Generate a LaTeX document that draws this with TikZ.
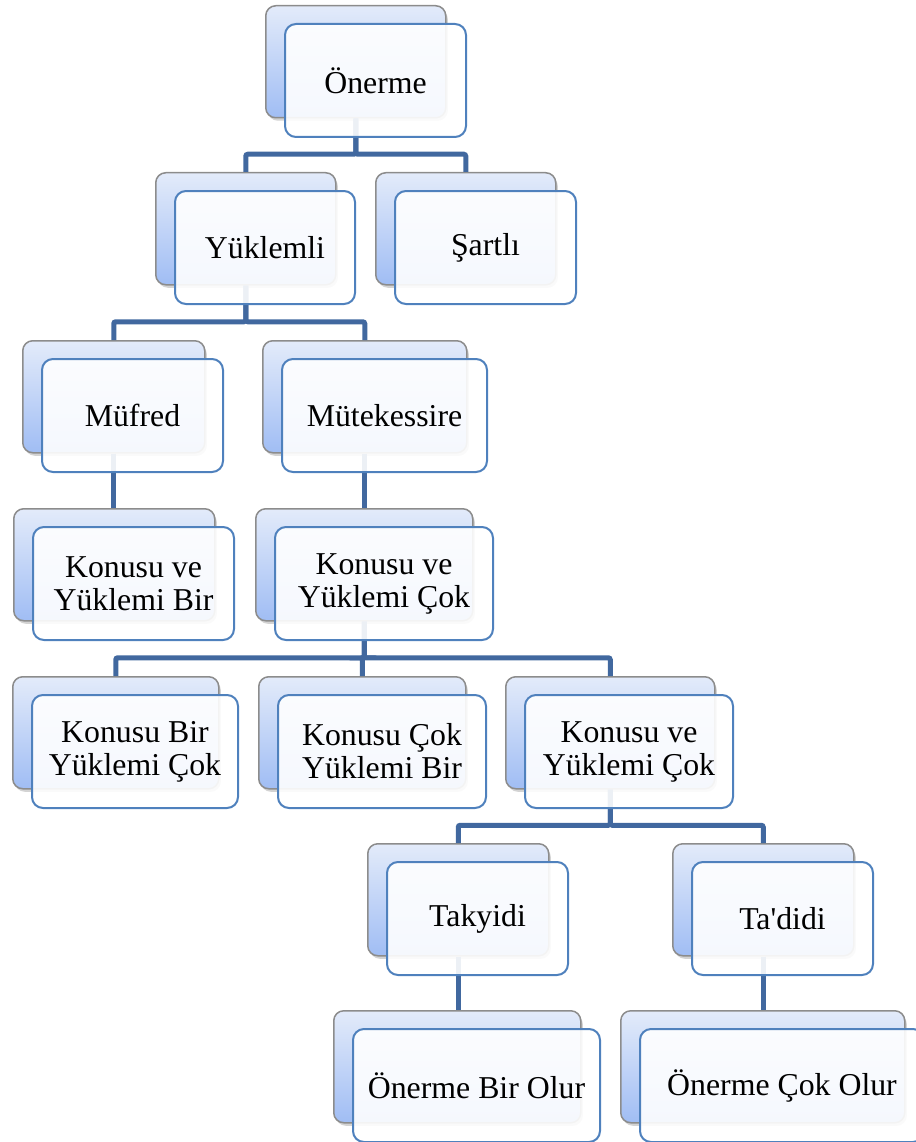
\documentclass[tikz,border=0pt]{standalone}
\usepackage{fontspec}
\setmainfont{Liberation Serif}[Ligatures=TeXOff]
\usetikzlibrary{positioning, shadows, calc}
\definecolor{TreeLine}{HTML}{41689F}
\definecolor{TreeEdge}{HTML}{4F81BD}
\definecolor{TreeTop}{HTML}{E3EBFA}
\definecolor{TreeBottom}{HTML}{A0BDF4}
\definecolor{TreeGray}{HTML}{8C8C8C}

\begin{document}
\begin{tikzpicture}[x=1pt, y=-1pt, every node/.style={font=\fontsize{31.8}{33}\selectfont}]
  \tikzset{
    backbox/.style={rectangle, rounded corners=10pt, draw=TreeGray, line width=1.5pt, top color=TreeTop, bottom color=TreeBottom, minimum height=112pt, inner sep=0pt, anchor=north west, drop shadow={opacity=0.35, shadow xshift=2pt, shadow yshift=-3pt}},
    frontbox/.style={rectangle, rounded corners=11pt, draw=TreeEdge, line width=2pt, fill=white, fill opacity=0.9, text opacity=1, minimum height=113pt, inner sep=0pt, anchor=north west, align=center},
    conn/.style={draw=TreeLine, line width=5pt, rounded corners=2pt}
  }
  \useasboundingbox (0,0) rectangle (915,1142);

  % back cards
  \foreach \n/\x/\y/\w in {oner/265/5/180, yuk/155/172/180, sart/375/172/180,
      muf/22/340/182, mut/262/340/204, kvyb/13/508/201, kvyc/255/508/217,
      kbyc/12/676/206, kcyb/258/676/207, kvyd/505/676/209,
      tak/367/843/181, tad/672/843/181, obo/333/1010/247, oco/620/1010/284}
    \node[backbox, minimum width=\w pt] (\n B) at (\x,\y) {};

  % connectors (bar halfway between front card and child)
  \foreach \p/\c in {oner/yuk, oner/sart, yuk/muf, yuk/mut,
      kvyc/kbyc, kvyc/kcyb, kvyc/kvyd, kvyd/tak, kvyd/tad}
    \draw[conn] (\p B.south) |- ($(\p B.south)!.5!(\c B.north)+(0,9)$) -| (\c B.north);
  \foreach \p/\c in {muf/kvyb, mut/kvyc, tak/obo, tad/oco}
    \draw[conn] (\p B.south) -- (\p B.south |- \c B.north);

  % front cards with labels
  \foreach \n/\x/\y/\w/\t in {oner/265/5/181/Önerme, yuk/155/172/180/Yüklemli, sart/375/172/181/Şartlı,
      muf/22/340/181/Müfred, mut/262/340/205/Mütekessire,
      kvyb/13/508/201/{Konusu ve\\Yüklemi Bir}, kvyc/255/508/218/{Konusu ve\\Yüklemi Çok},
      kbyc/12/676/206/{Konusu Bir\\Yüklemi Çok}, kcyb/258/676/208/{Konusu Çok\\Yüklemi Bir},
      kvyd/505/676/208/{Konusu ve\\Yüklemi Çok},
      tak/367/843/181/Takyidi, tad/672/843/181/Ta'didi,
      obo/333/1010/247/Önerme Bir Olur, oco/620/1010/284/Önerme Çok Olur}
    \node[frontbox, minimum width=\w pt] (\n F) at (\x+19,\y+18) {\t};
\end{tikzpicture}
\end{document}
